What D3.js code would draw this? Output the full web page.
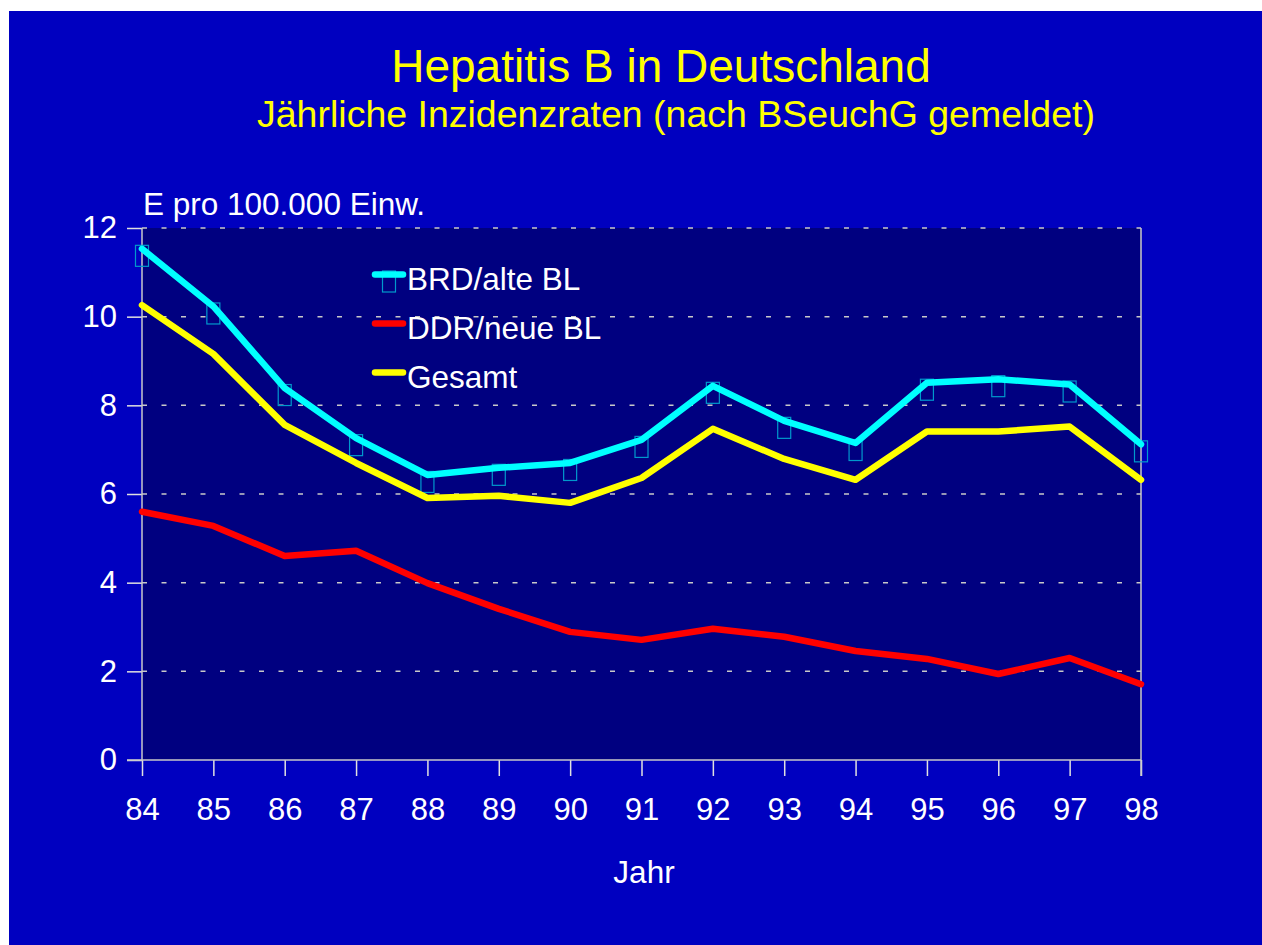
<!DOCTYPE html>
<meta charset="utf-8">
<style type="text/css">
  body {
    margin: 0;
    background: #fff;
    font-family: "Liberation Sans", Arial, sans-serif;
  }
  .axis text {
    fill: #fff;
    font-family: "Liberation Sans", Arial, sans-serif;
    font-size: 31px;
  }
  .axis line {
    stroke: #e0e0e0;
    stroke-width: 1.5px;
  }
  .axis path {
    display: none;
  }
</style>
<body>
<script src="https://d3js.org/d3.v7.min.js"></script>
<script>
  var years = ['84', '85', '86', '87', '88', '89', '90', '91', '92', '93', '94', '95', '96', '97', '98'];
  var yTicks = [0, 2, 4, 6, 8, 10, 12];
  var seriesNames = ['BRD/alte BL', 'DDR/neue BL', 'Gesamt'];
  var brd = [11.53, 10.23, 8.39, 7.26, 6.43, 6.59, 6.70, 7.22, 8.44, 7.65, 7.15, 8.51, 8.59, 8.47, 7.12];
  var ddr = [5.60, 5.28, 4.60, 4.72, 3.99, 3.41, 2.89, 2.71, 2.96, 2.78, 2.46, 2.28, 1.94, 2.30, 1.71];
  var gesamt = [10.26, 9.16, 7.56, 6.70, 5.91, 5.96, 5.80, 6.36, 7.47, 6.79, 6.32, 7.41, 7.41, 7.52, 6.32];
  var colors = ['#00ffff', '#ff0000', '#ffff00'];

  var w = 1262, h = 945;
  var plotL = 142, plotR = 1141, plotT = 228, plotB = 760;

  var svg = d3.select('body').append('svg')
    .attr('width', w)
    .attr('height', h);

  // slide background
  svg.append('rect')
    .attr('x', 9).attr('y', 11)
    .attr('width', w - 9).attr('height', h - 11)
    .attr('fill', '#0000c0');

  var x = d3.scalePoint().domain(years).range([plotL, plotR]);
  var y = d3.scaleLinear().domain([0, 12]).range([plotB, plotT]);

  // plot area
  svg.append('rect')
    .attr('x', plotL).attr('y', plotT)
    .attr('width', plotR - plotL).attr('height', plotB - plotT)
    .attr('fill', '#000080');

  // titles
  svg.append('text')
    .attr('x', 661).attr('y', 82)
    .attr('text-anchor', 'middle')
    .attr('fill', '#ffff00')
    .style('font-size', '46px')
    .text('Hepatitis B in Deutschland');
  svg.append('text')
    .attr('x', 676).attr('y', 127)
    .attr('text-anchor', 'middle')
    .attr('fill', '#ffff00')
    .style('font-size', '37.5px')
    .text('Jährliche Inzidenzraten (nach BSeuchG gemeldet)');
  svg.append('text')
    .attr('x', 143).attr('y', 215)
    .attr('fill', '#fff')
    .style('font-size', '31.5px')
    .text('E pro 100.000 Einw.');
  svg.append('text')
    .attr('x', 644).attr('y', 883)
    .attr('text-anchor', 'middle')
    .attr('fill', '#fff')
    .style('font-size', '31.5px')
    .text('Jahr');

  // gridlines
  svg.append('g').selectAll('line')
    .data(yTicks.filter(function(d) { return d > 0; }))
    .enter().append('line')
    .attr('x1', plotL).attr('x2', plotR)
    .attr('y1', function(d) { return y(d); })
    .attr('y2', function(d) { return y(d); })
    .attr('stroke', '#c8c8c8')
    .attr('stroke-width', 1.5)
    .attr('stroke-dasharray', '5,14.5');

  // axes
  svg.append('g')
    .attr('class', 'axis')
    .attr('transform', 'translate(' + plotL + ',0)')
    .call(d3.axisLeft(y).tickValues(yTicks).tickSize(15).tickPadding(10));

  svg.append('g')
    .attr('class', 'axis')
    .attr('transform', 'translate(0,' + plotB + ')')
    .call(d3.axisBottom(x).tickSize(16).tickPadding(22));

  // frame lines
  svg.append('line')
    .attr('x1', plotL).attr('x2', plotL).attr('y1', plotT).attr('y2', plotB)
    .attr('stroke', '#c8c8c8').attr('stroke-width', 1.5);
  svg.append('line')
    .attr('x1', plotR).attr('x2', plotR).attr('y1', plotT).attr('y2', plotB + 16)
    .attr('stroke', '#c8c8c8').attr('stroke-width', 1.5);
  svg.append('line')
    .attr('x1', plotL - 15).attr('x2', plotR).attr('y1', plotB).attr('y2', plotB)
    .attr('stroke', '#c8c8c8').attr('stroke-width', 1.5);

  var line = d3.line()
    .x(function(d, i) { return x(years[i]); })
    .y(function(d) { return y(d); });

  // box markers of BRD series
  svg.append('g').selectAll('rect')
    .data(brd)
    .enter().append('rect')
    .attr('x', function(d, i) { return x(years[i]) - 6.5; })
    .attr('y', function(d) { return y(d) - 3.5; })
    .attr('width', 13).attr('height', 21)
    .attr('fill', 'none')
    .attr('stroke', '#0099cc')
    .attr('stroke-width', 1.2);

  var allSeries = [brd, ddr, gesamt];
  svg.append('g').selectAll('path')
    .data(allSeries)
    .enter().append('path')
    .attr('d', line)
    .attr('fill', 'none')
    .attr('stroke', function(d, i) { return colors[i]; })
    .attr('stroke-width', 6.5)
    .attr('stroke-linejoin', 'round')
    .attr('stroke-linecap', 'round');

  // legend
  var legend = svg.append('g').selectAll('g')
    .data(seriesNames)
    .enter().append('g')
    .attr('transform', function(d, i) { return 'translate(372,' + (274.5 + i * 49) + ')'; });

  legend.filter(function(d, i) { return i === 0; })
    .append('rect')
    .attr('x', 10.5).attr('y', -3.5)
    .attr('width', 13).attr('height', 21)
    .attr('fill', 'none')
    .attr('stroke', '#0099cc')
    .attr('stroke-width', 1.2);

  legend.append('line')
    .attr('x1', 3).attr('x2', 31)
    .attr('stroke', function(d, i) { return colors[i]; })
    .attr('stroke-width', 6.5)
    .attr('stroke-linecap', 'round');

  legend.append('text')
    .attr('x', 35).attr('y', 15.5)
    .attr('fill', '#fff')
    .style('font-size', '31.5px')
    .text(function(d) { return d; });
</script>
</body>
